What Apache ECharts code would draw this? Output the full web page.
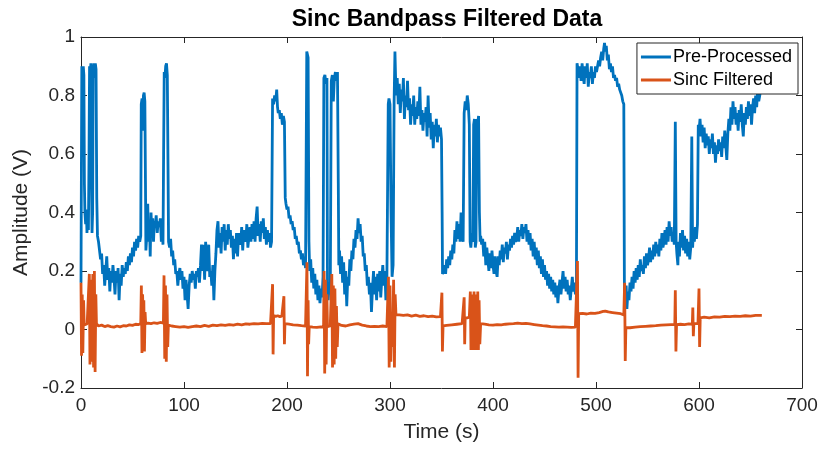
<!DOCTYPE html>
<html>
<head>
<meta charset="utf-8">
<script src="https://cdn.jsdelivr.net/npm/echarts@6/dist/echarts.min.js"></script>
<style>
  html, body { margin: 0; padding: 0; background: #fff; }
  #chart { width: 823px; height: 451px; }
</style>
</head>
<body>
<div id="chart"></div>
<script>
// time (s), amplitude (V)
const preProcessed = [
  [0,0.16],[0.4,0.55],[0.8,0.9],[1.5,0.82],[2.2,0.9],[2.8,0.87],[3.3,0.5],[3.8,0.4],[4.5,0.36],[5.2,0.41],[5.8,0.33],[6.5,0.39],[7.2,0.34],[7.8,0.6],
  [8.3,0.9],[9,0.88],[9.6,0.91],[10.2,0.5],[10.7,0.33],[11.3,0.4],[11.8,0.88],[12.5,0.91],[13.2,0.86],[13.9,0.91],[14.6,0.89],[15.3,0.45],
  [16,0.32],[17,0.3],[18,0.27],[19,0.24],[20,0.26],[21,0.19],[22,0.22],[23,0.15],[24,0.2],[25,0.25],[26,0.17],[27,0.21],[28,0.13],[29,0.2],
  [30,0.16],[31,0.22],[32,0.18],[33,0.12],[34,0.2],[35,0.16],[36,0.21],[37,0.1],[38,0.19],[39,0.15],[40,0.22],[41,0.18],[42,0.21],[43,0.19],
  [44,0.23],[45,0.2],[46,0.25],[47,0.22],[48,0.26],[49,0.23],[50,0.28],[51,0.25],[52,0.3],[53,0.27],[54,0.31],[55,0.28],[56,0.32],[57,0.3],
  [58,0.32],[58.5,0.77],[59.3,0.79],[60,0.68],[60.6,0.8],[61.3,0.81],[62,0.78],[62.6,0.5],[63,0.27],
  [64,0.33],[64.8,0.43],[65.6,0.3],[66.4,0.37],[67.2,0.25],[68,0.4],[68.8,0.33],[69.6,0.38],[70.4,0.3],[71.2,0.37],[72,0.35],[73,0.39],
  [74,0.33],[75,0.37],[76,0.35],[77,0.38],[78,0.3],[79,0.33],[79.6,0.29],
  [80.2,0.6],[80.8,0.88],[81.5,0.86],[82.2,0.9],[83,0.91],[83.8,0.87],[84.5,0.55],[85,0.3],
  [86,0.28],[87,0.31],[88,0.25],[89,0.27],[90,0.22],[91,0.24],[92,0.19],[93,0.2],[94,0.15],[95,0.19],[96,0.21],[97,0.17],[98,0.2],[99,0.14],
  [100,0.18],[101,0.1],[102,0.17],[103,0.12],[104,0.07],[105,0.15],[106,0.19],[107,0.16],[108,0.2],[109,0.17],[110,0.19],[111,0.14],[112,0.2],
  [113,0.18],[114,0.21],[115,0.16],[116,0.22],[117,0.29],[118,0.2],[119,0.29],[120,0.17],[121,0.3],[122,0.23],[123,0.2],[124,0.29],[125,0.18],
  [126,0.2],[127,0.15],[128,0.22],[129,0.1],[130,0.2],[131,0.26],[132,0.34],[133,0.37],[134,0.28],[135,0.33],[136,0.26],[137,0.35],[138,0.3],
  [139,0.36],[140,0.27],[141,0.34],[142,0.29],[143,0.36],[144,0.31],[145,0.34],[146,0.28],[147,0.32],[148,0.24],[149,0.31],[150,0.26],[151,0.33],
  [152,0.25],[153,0.33],[155,0.29],[156,0.35],[157,0.27],[158,0.34],[160,0.3],[161,0.36],[162,0.28],[164,0.35],[165,0.3],[166,0.36],[167,0.31],
  [168,0.37],[169,0.3],[170,0.38],[171,0.42],[172,0.32],[173,0.36],[174,0.3],[175,0.37],[176,0.33],[177,0.38],[178,0.31],[179,0.35],[180,0.29],
  [181,0.34],[182,0.3],[183,0.33],[184,0.28],[185,0.3],
  [186,0.79],[187,0.77],[188,0.8],[189,0.78],[190,0.82],[190.8,0.76],[191.5,0.74],[192.5,0.75],[193.5,0.72],[194.5,0.74],[195.5,0.7],[196.5,0.73],
  [197.5,0.71],[198.3,0.45],[199,0.43],[200,0.41],[201,0.42],[202,0.38],[203,0.39],[204,0.36],[205,0.37],[206,0.34],[207,0.35],[208,0.31],
  [209,0.32],[210,0.29],[211,0.3],[212,0.26],[213,0.27],[214,0.24],[215,0.26],[216,0.22],[217,0.24],[218,0.21],
  [219.2,0.95],[220.5,0.93],[221.3,0.3],
  [222,0.2],[223,0.24],[224,0.16],[225,0.21],[226,0.14],[227,0.19],[228,0.12],[229,0.17],[230,0.1],[231,0.15],[232,0.09],[233,0.14],[234,0.11],[235,0.18],
  [235.8,0.86],[236.8,0.87],[237.8,0.84],[238.8,0.86],[239.3,0.15],[240,0.1],[241,0.16],[242,0.12],
  [243,0.85],[244,0.87],[245,0.78],[246,0.86],[247,0.88],[248,0.85],[249,0.88],[249.8,0.5],[250.3,0.22],
  [251,0.27],[252,0.19],[253,0.25],[254,0.16],[255,0.23],[256,0.12],[257,0.2],[258,0.08],[259,0.18],[260,0.15],[261,0.24],[262,0.2],
  [263,0.27],[264,0.24],[265,0.31],[266,0.28],[267,0.34],[268,0.31],[269,0.38],[270,0.33],[271,0.36],[272,0.3],[273,0.32],[274,0.25],[275,0.26],
  [276,0.2],[277,0.22],[278,0.15],[279,0.18],[280,0.12],[281,0.16],[282,0.06],[283,0.14],[284,0.2],[285,0.12],[286,0.18],[287,0.1],[288,0.19],
  [289,0.13],[290,0.2],[291,0.11],[292,0.17],[293,0.22],[294,0.15],[295,0.2],[296,0.1],[297,0.18],
  [298.3,0.77],[299,0.79],[300,0.77],[301,0.4],[302,0.18],[303,0.22],[304,0.78],[304.8,0.95],[305.5,0.85],
  [306,0.8],[307,0.86],[308,0.77],[309,0.84],[310,0.74],[311,0.82],[312,0.78],[313,0.86],[314,0.72],[315,0.8],[316,0.76],[317,0.85],[318,0.75],
  [319,0.79],[320,0.7],[321,0.77],[322,0.73],[323,0.8],[324,0.7],[325,0.76],[326,0.72],[327,0.78],[328,0.73],[329,0.83],[330,0.7],[331,0.75],
  [332,0.68],[333,0.74],[334,0.71],[335,0.76],[336,0.66],[337,0.8],[338,0.69],[339,0.74],[340,0.65],[341,0.71],[342,0.62],[343,0.7],[344,0.66],
  [345,0.72],[346,0.64],[347,0.7],[348,0.66],[349,0.69],[350,0.65],[350.6,0.4],[351,0.19],
  [352,0.2],[353,0.22],[354,0.19],[355,0.24],[356,0.21],[357,0.25],[358,0.22],[359,0.27],[360,0.24],[361,0.29],[362,0.26],[363,0.34],[364,0.3],
  [365,0.37],[366,0.31],[367,0.36],[368,0.3],[369,0.4],[370,0.32],[371,0.3],
  [372,0.74],[373,0.78],[374,0.75],[375,0.8],[376,0.77],[377,0.7],[377.8,0.3],[378.5,0.28],[379.5,0.33],[380.5,0.3],
  [381.2,0.7],[382,0.72],[382.8,0.28],[383.5,0.3],[384.2,0.72],[385,0.7],[386,0.73],[386.8,0.4],[387.5,0.3],
  [388,0.32],[389,0.29],[390,0.31],[391,0.25],[392,0.3],[393,0.22],[394,0.28],[395,0.24],[396,0.2],[397,0.26],[398,0.21],[399,0.27],[400,0.22],
  [401,0.19],[402,0.25],[403,0.2],[404,0.18],[405,0.25],[406,0.22],[407,0.27],[408,0.24],[409,0.29],[410,0.23],[411,0.28],[412,0.26],[413,0.3],
  [414,0.24],[415,0.29],[416,0.27],[417,0.31],[418,0.28],[419,0.32],[420,0.29],[421,0.33],[422,0.3],[423,0.31],[424,0.35],[425,0.3],[426,0.34],
  [427,0.32],[428,0.36],[429,0.31],[430,0.35],[431,0.33],[432,0.36],[433,0.3],[434,0.34],[435,0.29],[436,0.33],[437,0.27],[438,0.31],[439,0.25],
  [440,0.3],[441,0.24],[442,0.28],[443,0.22],[444,0.27],[445,0.21],[446,0.25],[447,0.19],[448,0.24],[449,0.18],[450,0.22],[451,0.17],[452,0.2],
  [453,0.15],[454,0.19],[455,0.14],[456,0.18],[457,0.13],[458,0.17],[459,0.12],[460,0.16],[461,0.11],[462,0.15],[463,0.09],[464,0.14],[465,0.17],
  [466,0.12],[467,0.16],[468,0.2],[469,0.14],[470,0.18],[471,0.13],[472,0.17],[473,0.12],[474,0.15],[475,0.1],[476,0.14],[477,0.18],[478,0.13],
  [479,0.16],[480,0.12],[481,0.15],
  [481.6,0.91],[482.5,0.89],[483.5,0.86],[484.5,0.9],[485.5,0.85],[486.5,0.91],[487.5,0.87],[488.5,0.84],[489.5,0.9],[490.5,0.86],[491.5,0.91],
  [492.5,0.83],[493.5,0.88],[494.5,0.86],[495.5,0.9],[496.5,0.84],[497.5,0.88],[498.5,0.86],[499.5,0.9],[500.5,0.88],[501.5,0.9],[502.5,0.92],
  [503.5,0.9],[504.5,0.93],[505.5,0.95],[506.5,0.92],[507.5,0.96],[508.3,0.98],[509,0.95],[510,0.97],[511,0.92],[512,0.94],[513,0.89],[514,0.91],
  [515,0.88],[516,0.9],[517,0.86],[518,0.87],[519,0.85],[520,0.86],[521,0.83],[522,0.84],[523,0.82],[524,0.82],[525,0.8],[526,0.78],[527,0.77],
  [527.6,0.12],[528.5,0.08],[529.3,0.15],[530,0.07],[531,0.13],[532,0.1],
  [533,0.16],[534,0.13],[535,0.18],[536,0.14],[537,0.2],[538,0.16],[539,0.21],[540,0.17],[541,0.22],[542,0.18],[543,0.24],[544,0.2],[545,0.22],
  [546,0.19],[547,0.25],[548,0.21],[549,0.26],[550,0.22],[551,0.24],[552,0.28],[553,0.23],[554,0.27],[555,0.24],[556,0.29],[557,0.25],[558,0.3],
  [559,0.26],[560,0.29],[561,0.25],[562,0.31],[563,0.27],[564,0.33],[565,0.28],[566,0.3],[567,0.34],[568,0.29],[569,0.35],[570,0.3],[571,0.37],
  [572,0.32],[573,0.35],[574,0.3],[575,0.33],[576,0.29],
  [577,0.71],[577.8,0.3],[578.5,0.26],[579.5,0.22],[580,0.3],[581,0.25],[582,0.33],[583,0.28],[584,0.34],[585,0.27],[586,0.32],[587,0.26],
  [588,0.31],[589,0.25],[590,0.3],[591,0.24],[592,0.28],
  [593,0.66],[593.8,0.28],[594.5,0.33],[595.5,0.3],[596.5,0.35],[597.5,0.31],[598.5,0.36],
  [599.3,0.7],[600,0.68],[601,0.72],[602,0.66],[603,0.7],[604,0.64],[605,0.69],[606,0.62],[607,0.67],[608,0.63],[609,0.66],[610,0.6],[611,0.65],
  [612,0.62],[613,0.67],[614,0.6],[615,0.64],[616,0.57],[617,0.63],[618,0.6],[619,0.65],[620,0.61],[621,0.64],[622,0.59],[623,0.66],[624,0.62],
  [625,0.68],[626,0.63],[627,0.58],[628,0.67],[629,0.72],[630,0.68],[631,0.76],[632,0.7],[633,0.78],[634,0.72],[635,0.76],[636,0.7],[637,0.74],
  [638,0.68],[639,0.75],[640,0.71],[641,0.77],[642,0.7],[643,0.66],[644,0.74],[645,0.7],[646,0.76],[647,0.72],[648,0.78],[649,0.73],[650,0.77],
  [651,0.7],[652,0.76],[653,0.79],[654,0.74],[655,0.8],[656,0.76],[657,0.82],[658,0.78],[659,0.8],[660,0.83],[661,0.81]
];

const sincFiltered = [
  [0,0.16],[0.5,-0.09],[1.2,0.12],[1.8,-0.08],[2.5,0.1],[3.1,0.015],[4,0.018],[5,0.015],[6,0.02],[7,0.016],[7.6,0.015],
  [8.1,0.19],[8.7,-0.12],[9.4,0.17],[10,-0.11],[10.8,0.06],[11.5,0.19],[12.2,-0.13],[13,0.2],[13.7,-0.145],[14.4,0.12],[15,0.02],
  [17,0.012],[20,0.015],[23,0.01],[26,0.013],[29,0.01],[32,0.008],[35,0.012],[38,0.009],[41,0.013],[44,0.012],[47,0.016],[50,0.014],
  [53,0.018],[56,0.017],[58,0.02],
  [58.6,0.15],[59.2,-0.08],[59.8,0.12],[60.4,0.03],[61,0.1],[61.6,-0.075],[62.2,0.06],[62.8,0.02],
  [65,0.022],[68,0.02],[71,0.023],[74,0.021],[77,0.024],[80,0.022],
  [80.6,0.185],[81.3,-0.1],[82,0.15],[82.8,-0.11],[83.5,0.12],[84.2,-0.06],[84.8,0.015],
  [88,0.012],[92,0.01],[96,0.008],[100,0.01],[104,0.007],[108,0.01],[112,0.012],[116,0.01],[120,0.014],[124,0.011],[128,0.015],[132,0.013],
  [136,0.016],[140,0.014],[144,0.017],[148,0.015],[152,0.018],[156,0.016],[160,0.019],[164,0.018],[168,0.02],[172,0.019],[176,0.021],
  [180,0.02],[184,0.02],[185.7,0.018],
  [186,0.155],[186.5,-0.085],[187,0.048],[189,0.045],[191,0.047],[193,0.044],[195,0.046],[196.5,0.04],[197,0.114],[197.5,-0.05],[198,0.02],
  [202,0.018],[206,0.016],[210,0.015],[214,0.013],[218,0.012],[219,0.011],
  [219.4,0.23],[219.9,-0.16],[220.5,0.1],[221,-0.05],[221.6,0.01],
  [225,0.008],[229,0.007],[233,0.009],[235.5,0.008],
  [236,0.2],[236.6,-0.15],[237.3,0.17],[238,-0.12],[238.7,0.12],[239.3,0.01],[242,0.012],[243,0.01],
  [243.5,0.19],[244.2,-0.13],[245,0.15],[245.8,-0.12],[246.5,0.14],[247.3,-0.1],[248,0.08],[248.8,-0.06],[249.5,0.02],
  [253,0.014],[257,0.012],[261,0.016],[265,0.018],[269,0.02],[273,0.015],[277,0.012],[281,0.01],[285,0.011],[289,0.01],[293,0.012],
  [297,0.01],[298,0.012],
  [298.5,0.18],[299.2,-0.13],[300,0.15],[300.8,-0.11],[301.6,0.06],[302.5,-0.06],[303.5,0.17],[304.3,-0.13],[305,0.12],[305.8,0.05],
  [309,0.05],[313,0.048],[317,0.05],[321,0.046],[325,0.049],[329,0.045],[333,0.047],[337,0.044],[341,0.046],[345,0.043],[349,0.044],[350,0.043],
  [350.4,0.126],[350.9,-0.075],[351.5,0.012],
  [355,0.014],[360,0.016],[365,0.018],[370,0.02],[371.5,0.02],
  [372,0.11],[372.5,-0.05],[373,0.04],[375,0.04],[377,0.042],[377.6,0.04],
  [378,0.13],[378.6,-0.07],[379.2,0.12],[379.8,-0.05],[380.4,0.1],[381,-0.07],[381.6,0.13],[382.2,-0.06],[382.8,0.11],[383.4,-0.07],
  [384,0.12],[384.6,-0.06],[385.2,0.13],[385.8,-0.07],[386.5,0.1],[387.2,-0.05],[388,0.02],
  [392,0.018],[396,0.016],[400,0.015],[404,0.017],[408,0.016],[412,0.018],[416,0.019],[420,0.02],[424,0.022],[428,0.02],[432,0.021],
  [436,0.019],[440,0.017],[444,0.015],[448,0.013],[452,0.012],[456,0.01],[460,0.009],[464,0.008],[468,0.009],[472,0.008],[476,0.007],
  [480,0.008],[481.5,0.008],
  [482,0.234],[482.6,-0.165],[483.2,0.054],[487,0.055],[491,0.053],[495,0.056],[499,0.055],[503,0.058],[507,0.062],[509,0.063],[512,0.06],
  [516,0.058],[520,0.056],[524,0.054],[527,0.05],
  [527.8,0.16],[528.4,-0.108],[529,0.006],
  [533,0.006],[538,0.008],[543,0.01],[548,0.011],[553,0.012],[558,0.013],[563,0.015],[568,0.016],[573,0.017],[576.5,0.017],
  [577,0.134],[577.6,-0.075],[578.2,0.017],
  [582,0.018],[586,0.017],[590,0.019],[593.5,0.018],
  [594,0.075],[594.5,-0.023],[595,0.02],[599,0.02],[599.5,0.02],
  [600,0.14],[600.6,-0.06],[601.2,0.04],
  [605,0.042],[610,0.04],[615,0.043],[620,0.042],[625,0.045],[630,0.044],[635,0.046],[640,0.045],[645,0.047],[650,0.046],[655,0.048],[661,0.048]
];

const seriesNames = ['Pre-Processed', 'Sinc Filtered'];
const seriesColors = ['#0072BD', '#D95319'];

const axisColor = '#262626';
const fontFamily = '"Liberation Sans", Arial, Helvetica, sans-serif';

const chart = echarts.init(document.getElementById('chart'), null, { renderer: 'canvas' });

const xBase = {
  type: 'value', min: 0, max: 700, interval: 100,
  axisLine: { show: true, onZero: false, lineStyle: { color: axisColor, width: 1 } },
  axisTick: { show: true, inside: true, length: 6, lineStyle: { color: axisColor } },
  splitLine: { show: false }
};
const yBase = {
  type: 'value', min: -0.2, max: 1, interval: 0.2,
  axisLine: { show: true, onZero: false, lineStyle: { color: axisColor, width: 1 } },
  axisTick: { show: true, inside: true, length: 6, lineStyle: { color: axisColor } },
  splitLine: { show: false }
};

const option = {
  animation: false,
  backgroundColor: '#fff',
  title: {
    text: 'Sinc Bandpass Filtered Data',
    left: 442, top: 3, textAlign: 'center',
    textStyle: { fontFamily, fontSize: 23, fontWeight: 'bold', color: '#000' }
  },
  grid: { left: 81, right: 21, top: 37, bottom: 63, containLabel: false },
  legend: {
    data: seriesNames,
    orient: 'vertical',
    right: 25, top: 43,
    backgroundColor: '#fff',
    borderColor: axisColor, borderWidth: 1, borderRadius: 0,
    padding: [5, 6, 5, 4],
    itemGap: 5, itemWidth: 30, itemHeight: 3,
    icon: 'rect',
    textStyle: { fontFamily, fontSize: 18, color: '#000', padding: [0, 0, 0, -3] }
  },
  xAxis: [
    Object.assign({}, xBase, {
      position: 'bottom',
      name: 'Time (s)', nameLocation: 'middle', nameGap: 34,
      nameTextStyle: { fontFamily, fontSize: 21, color: axisColor },
      axisLabel: { fontFamily, fontSize: 19, color: axisColor, margin: 8 }
    }),
    Object.assign({}, xBase, { position: 'top', axisLabel: { show: false } })
  ],
  yAxis: [
    Object.assign({}, yBase, {
      position: 'left',
      name: 'Amplitude (V)', nameLocation: 'middle', nameGap: 47,
      nameTextStyle: { fontFamily, fontSize: 21, color: axisColor },
      axisLabel: { fontFamily, fontSize: 19, color: axisColor, margin: 6 }
    }),
    Object.assign({}, yBase, { position: 'right', axisLabel: { show: false } })
  ],
  series: [
    {
      name: seriesNames[0], type: 'line', data: preProcessed,
      xAxisIndex: 0, yAxisIndex: 0,
      symbol: 'none', showSymbol: false,
      color: seriesColors[0],
      lineStyle: { width: 2.8, color: seriesColors[0] }
    },
    {
      name: seriesNames[1], type: 'line', data: sincFiltered,
      xAxisIndex: 0, yAxisIndex: 0,
      symbol: 'none', showSymbol: false,
      color: seriesColors[1],
      lineStyle: { width: 2.8, color: seriesColors[1] }
    }
  ]
};

chart.setOption(option);
</script>
</body>
</html>
